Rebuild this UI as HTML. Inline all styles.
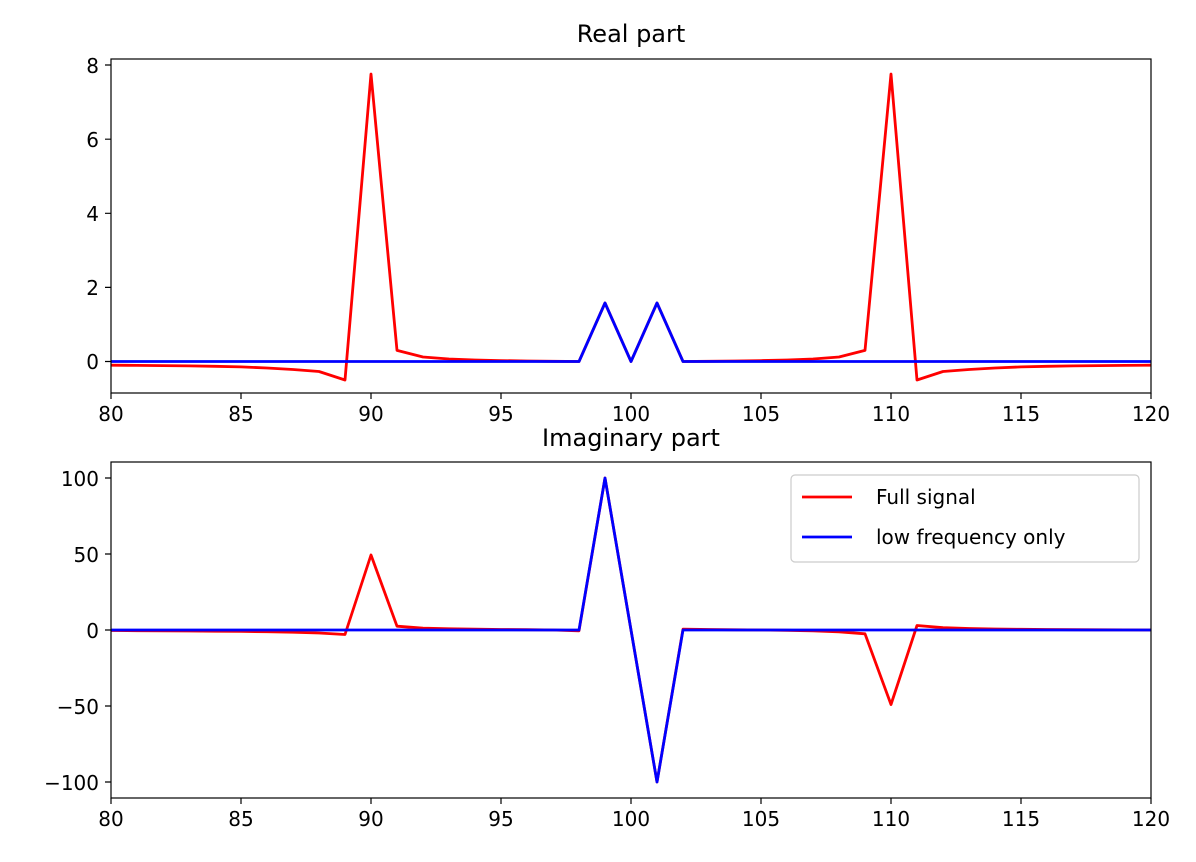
<!DOCTYPE html>
<html><head><style>body{margin:0;background:#fff}svg{display:block}text{font-family:"DejaVu Sans","Liberation Sans",sans-serif;fill:#000}</style></head><body>
<svg width="1196" height="862" viewBox="0 0 1196 862" xmlns="http://www.w3.org/2000/svg">
<rect width="1196" height="862" fill="#fff"/>
<defs>
<clipPath id="c1"><rect x="111" y="59" width="1040" height="334"/></clipPath>
<clipPath id="c2"><rect x="111" y="462" width="1040" height="336"/></clipPath>
</defs>
<!-- top -->
<g clip-path="url(#c1)" fill="none" stroke-width="2.8" stroke-linejoin="round">
<polyline stroke="#f00" points="111,365.2 137,365.4 163,365.6 189,365.9 215,366.3 241,366.9 267,368 293,369.5 319,371.5 345,380 371,74 397,350.4 423,357 449,359 475,360 501,360.6 527,361 553,361.3 579,361.5 605,303 631,361.5 657,303 683,361.5 709,361.3 735,361 761,360.6 787,360 813,359 839,357 865,350.4 891,74 917,380 943,371.5 969,369.5 995,368 1021,366.9 1047,366.3 1073,365.9 1099,365.6 1125,365.4 1151,365.2"/>
<polyline stroke="#00f" points="111,361.5 579,361.5 605,303 631,361.5 657,303 683,361.5 1151,361.5"/>
</g>
<rect x="111" y="59" width="1040" height="334" fill="none" stroke="#000" stroke-width="1.2"/>
<g stroke="#000" stroke-width="1.2">
<path d="M111,393v6M241,393v6M371,393v6M501,393v6M631,393v6M761,393v6M891,393v6M1021,393v6M1151,393v6"/>
<path d="M111,361.5h-6M111,287.4h-6M111,213.3h-6M111,139.2h-6M111,65h-6"/>
<path d="M111,798v6M241,798v6M371,798v6M501,798v6M631,798v6M761,798v6M891,798v6M1021,798v6M1151,798v6"/>
<path d="M111,478h-6M111,554h-6M111,630h-6M111,706h-6M111,782h-6"/>
</g>
<g font-size="20" text-anchor="middle">
<text x="111" y="421">80</text><text x="241" y="421">85</text><text x="371" y="421">90</text><text x="501" y="421">95</text><text x="631" y="421">100</text><text x="761" y="421">105</text><text x="891" y="421">110</text><text x="1021" y="421">115</text><text x="1151" y="421">120</text>
<text x="111" y="826">80</text><text x="241" y="826">85</text><text x="371" y="826">90</text><text x="501" y="826">95</text><text x="631" y="826">100</text><text x="761" y="826">105</text><text x="891" y="826">110</text><text x="1021" y="826">115</text><text x="1151" y="826">120</text>
</g>
<g font-size="20" text-anchor="end">
<text x="99" y="369">0</text><text x="99" y="295">2</text><text x="99" y="221">4</text><text x="99" y="147">6</text><text x="99" y="73">8</text>
<text x="99" y="486">100</text><text x="99" y="562">50</text><text x="99" y="638">0</text><text x="99" y="714">−50</text><text x="99" y="790">−100</text>
</g>
<text x="631" y="42" font-size="24" text-anchor="middle">Real part</text>
<text x="631" y="446" font-size="24" text-anchor="middle">Imaginary part</text>
<!-- bottom -->
<g clip-path="url(#c2)" fill="none" stroke-width="2.8" stroke-linejoin="round">
<polyline stroke="#f00" points="111,630.5 137,630.7 163,630.9 189,631 215,631.2 241,631.4 267,631.7 293,632.2 319,633 345,634.5 371,555 397,626.2 423,628.2 449,628.8 475,629.2 501,629.5 527,629.7 553,630 579,630.8 605,478 631,630 657,782 683,629.2 709,629.5 735,629.8 761,630 787,630.3 813,630.8 839,631.8 865,633.8 891,704.5 917,625.5 943,627.7 969,628.5 995,629 1021,629.3 1047,629.5 1073,629.7 1099,629.8 1125,629.9 1151,630"/>
<polyline stroke="#00f" points="111,630 579,630 605,478 631,630 657,782 683,630 1151,630"/>
</g>
<rect x="111" y="462" width="1040" height="336" fill="none" stroke="#000" stroke-width="1.2"/>
<rect x="791" y="475" width="348" height="87" rx="4" fill="#fff" stroke="#ccc" stroke-width="1.2"/>
<path d="M802,497h50" stroke="#f00" stroke-width="2.8"/>
<path d="M802,537h50" stroke="#00f" stroke-width="2.8"/>
<text x="876" y="504" font-size="20">Full signal</text>
<text x="876" y="544" font-size="20">low frequency only</text>
</svg>
</body></html>
